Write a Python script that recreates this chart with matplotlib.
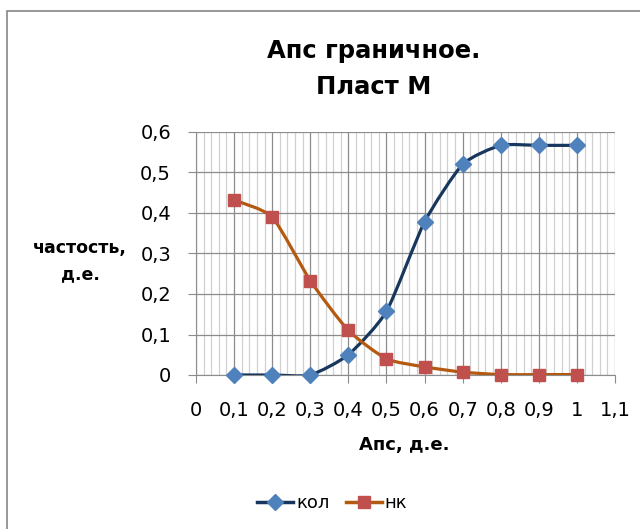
import numpy as np
import matplotlib
matplotlib.use("Agg")
import matplotlib.pyplot as plt
from matplotlib.ticker import MultipleLocator, FuncFormatter
from matplotlib.path import Path
from matplotlib.patches import PathPatch, Rectangle
from matplotlib.lines import Line2D

aps = [0.1, 0.2, 0.3, 0.4, 0.5, 0.6, 0.7, 0.8, 0.9, 1.0]
kol = [0.0, 0.0, 0.0, 0.05, 0.157, 0.378, 0.52, 0.567, 0.567, 0.567]
nk = [0.432, 0.39, 0.233, 0.11, 0.04, 0.02, 0.007, 0.001, 0.001, 0.001]

title = "Апс граничное.\nПласт М"
xlabel = "Апс, д.е."
ylabel = "частость,\nд.е."
names = ["кол", "нк"]

plt.rcParams['font.family'] = ['DejaVu Sans']


def smooth_path(xs, ys, k=10.0):
    # mildly smoothed line (Excel "smoothed line"), bezier through the points
    pts = np.column_stack([xs, ys])
    n = len(pts)
    verts = [pts[0]]
    codes = [Path.MOVETO]
    for i in range(n - 1):
        p0 = pts[i - 1] if i > 0 else pts[i]
        p1 = pts[i]
        p2 = pts[i + 1]
        p3 = pts[i + 2] if i + 2 < n else pts[i + 1]
        verts += [p1 + (p2 - p0) / k, p2 - (p3 - p1) / k, p2]
        codes += [Path.CURVE4] * 3
    return Path(verts, codes)


def fmt(v, pos):
    return ("%g" % round(v, 2)).replace(".", ",")


fig = plt.figure(figsize=(6.4, 5.29), dpi=100)
fig.patches.append(Rectangle((6.5 / 640, -0.1), 1.2, 1.1 - 11 / 529,
                             transform=fig.transFigure, fill=False,
                             edgecolor='#868686', linewidth=1.2))
ax = fig.add_axes([196 / 640, 1 - 375 / 529, 419 / 640, 243 / 529])

ax.set_xlim(0, 1.1)
ax.set_ylim(0, 0.6)
ax.xaxis.set_major_locator(MultipleLocator(0.1))
ax.xaxis.set_minor_locator(MultipleLocator(0.02))
ax.yaxis.set_major_locator(MultipleLocator(0.1))
ax.xaxis.set_major_formatter(FuncFormatter(fmt))
ax.yaxis.set_major_formatter(FuncFormatter(fmt))

ax.grid(which='major', axis='both', color='#8c8c8c', linewidth=0.9)
ax.grid(which='minor', axis='x', color='#d0d0d0', linewidth=0.9)
ax.set_axisbelow(True)
for side in ['top', 'right']:
    ax.spines[side].set_visible(False)
for side in ['left', 'bottom']:
    ax.spines[side].set_color('#8c8c8c')
ax.tick_params(axis='both', which='major', length=6, color='#8c8c8c',
               labelsize=14)
ax.tick_params(axis='y', which='major', pad=12)
ax.tick_params(axis='x', which='major', pad=13)
ax.tick_params(axis='x', which='minor', length=0)

line_colors = ['#17375E', '#B35A10']
marker_colors = ['#4F81BD', '#C0504D']
markers = ['D', 's']
msizes = [8.5, 8]
for ys, lc, mc, mk, ms in zip([kol, nk], line_colors, marker_colors, markers, msizes):
    ax.add_patch(PathPatch(smooth_path(aps, ys), facecolor='none',
                           edgecolor=lc, linewidth=2.3, zorder=3))
    ax.plot(aps, ys, linestyle='none', marker=mk, markersize=ms,
            markerfacecolor=mc, markeredgecolor=mc, zorder=4, clip_on=False)

fig.text(374 / 640, 1 - 69 / 529, title, ha='center', va='center',
         fontsize=17.5, fontweight='bold', linespacing=1.6)
fig.text(404 / 640, 1 - 445 / 529, xlabel, ha='center', va='center',
         fontsize=13, fontweight='bold')
fig.text(80 / 640, 1 - 261 / 529, ylabel, ha='center', va='center',
         fontsize=12.5, fontweight='bold', linespacing=1.6)

handles = [Line2D([], [], color=lc, linewidth=2.5, marker=mk, markersize=ms,
                  markerfacecolor=mc, markeredgecolor=mc)
           for lc, mc, mk, ms in zip(line_colors, marker_colors, markers, msizes)]
fig.legend(handles, names, loc='center', bbox_to_anchor=(332 / 640, 1 - 503 / 529),
           ncol=2, frameon=False, fontsize=13, handlelength=2.0,
           handletextpad=0.15, columnspacing=0.9)

fig.savefig("out.png", dpi=100)
